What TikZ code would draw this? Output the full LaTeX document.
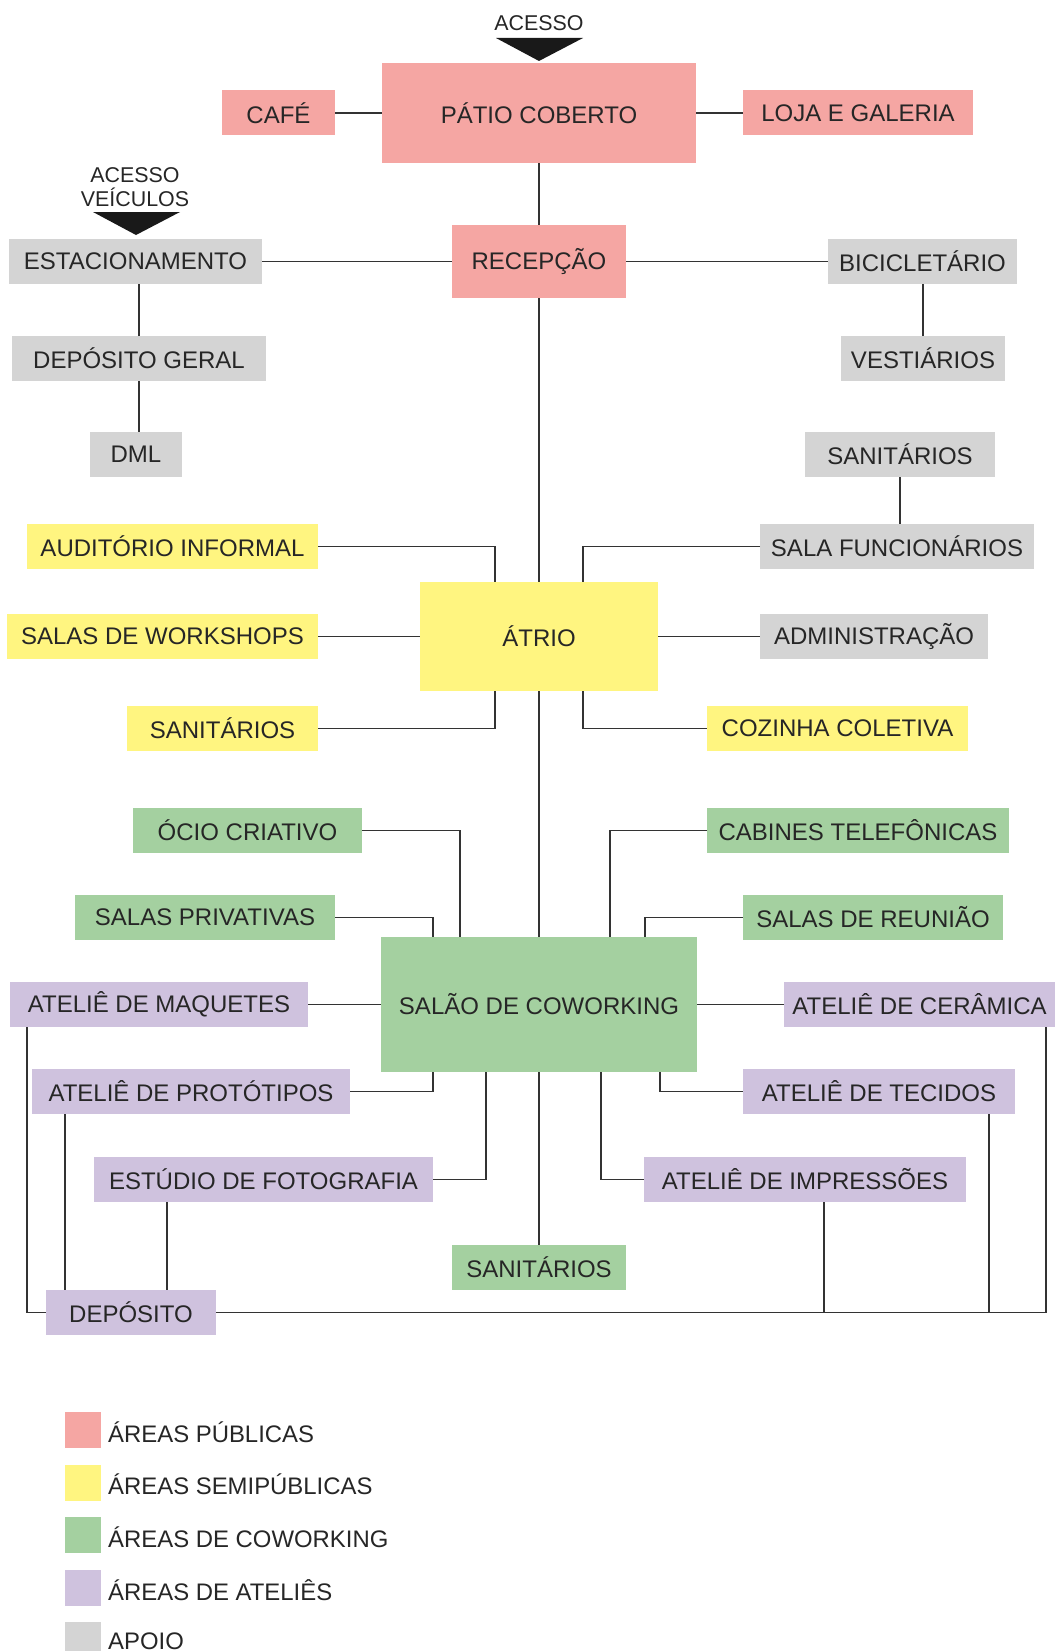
\documentclass[tikz,border=0pt]{standalone}
\usepackage{fontspec}
\setmainfont{Liberation Sans}
\begin{document}
\begin{tikzpicture}[x=1pt,y=-1pt,
  box/.style={inner sep=0pt, outer sep=0pt, font=\fontsize{24pt}{28pt}\selectfont, text=black!85},
  pub/.style={box, fill=cpub},
  semi/.style={box, fill=csemi},
  cow/.style={box, fill=ccow},
  ate/.style={box, fill=cate},
  apo/.style={box, fill=capo},
  conn/.style={draw=black!80, line width=1.3pt},
  swatch/.style={inner sep=0pt, minimum width=36pt, minimum height=36pt},
  legtext/.style={anchor=west, inner sep=0pt, font=\fontsize{23.9pt}{28pt}\selectfont, text=black!85},
  acc/.style={inner sep=0pt, align=center, font=\fontsize{21.4pt}{25pt}\selectfont, text=black!85}
]
\definecolor{cpub}{RGB}{245,166,163}
\definecolor{csemi}{RGB}{255,245,128}
\definecolor{ccow}{RGB}{164,208,160}
\definecolor{cate}{RGB}{207,194,222}
\definecolor{capo}{RGB}{212,212,212}
\useasboundingbox (0,0) rectangle (1055,1651);

% access markers
\node[acc] (acesso) at (539,23) {ACESSO};
\coordinate (accA) at (496,38);
\coordinate (accB) at (583,38);
\coordinate (accT) at (539,61);
\fill[black!90] (accA) -- (accB) -- (accT) -- cycle;
\node[acc] (acessov) at (135,187) {ACESSO\\[-1pt]VEÍCULOS};
\coordinate (avA) at (93,212);
\coordinate (avB) at (180,212);
\coordinate (avT) at (136,235);
\fill[black!90] (avA) -- (avB) -- (avT) -- cycle;

% public
\node[pub, minimum width=314pt, minimum height=100pt] (patio) at (539,113) {PÁTIO COBERTO};
\node[pub, minimum width=113pt, minimum height=45pt] (cafe) at (278.5,113) {CAFÉ};
\node[pub, minimum width=230pt, minimum height=45pt] (loja) at (858,113) {LOJA E GALERIA};
\node[pub, minimum width=174pt, minimum height=73pt] (recep) at (539,261.5) {RECEPÇÃO};

% support
\node[apo, minimum width=253pt, minimum height=45pt] (estac) at (135.5,261.5) {ESTACIONAMENTO};
\node[apo, minimum width=189pt, minimum height=45pt] (bici) at (922.5,261.5) {BICICLETÁRIO};
\node[apo, minimum width=254pt, minimum height=45pt] (depgeral) at (139,358.5) {DEPÓSITO GERAL};
\node[apo, minimum width=92pt, minimum height=45pt] (dml) at (136,454.5) {DML};
\node[apo, minimum width=164pt, minimum height=45pt] (vest) at (923,358.5) {VESTIÁRIOS};
\node[apo, minimum width=190pt, minimum height=45pt] (sanapoio) at (900,454.5) {SANITÁRIOS};
\node[apo, minimum width=274pt, minimum height=45pt] (salafunc) at (897,546.5) {SALA FUNCIONÁRIOS};
\node[apo, minimum width=228pt, minimum height=45pt] (admin) at (874,636.5) {ADMINISTRAÇÃO};

% semi-public
\node[semi, minimum width=238pt, minimum height=109pt] (atrio) at (539,636.5) {ÁTRIO};
\node[semi, minimum width=291pt, minimum height=45pt] (aud) at (172.5,546.5) {AUDITÓRIO INFORMAL};
\node[semi, minimum width=311pt, minimum height=45pt] (workshops) at (162.5,636.5) {SALAS DE WORKSHOPS};
\node[semi, minimum width=191pt, minimum height=45pt] (sanamarelo) at (222.5,728.5) {SANITÁRIOS};
\node[semi, minimum width=261pt, minimum height=45pt] (cozinha) at (837.5,728.5) {COZINHA COLETIVA};

% coworking
\node[cow, minimum width=316pt, minimum height=135pt] (cowork) at (539,1004.5) {SALÃO DE COWORKING};
\node[cow, minimum width=229pt, minimum height=45pt] (ocio) at (247.5,830.5) {ÓCIO CRIATIVO};
\node[cow, minimum width=260pt, minimum height=45pt] (privativas) at (205,917.5) {SALAS PRIVATIVAS};
\node[cow, minimum width=302pt, minimum height=45pt] (cabines) at (858,830.5) {CABINES TELEFÔNICAS};
\node[cow, minimum width=260pt, minimum height=45pt] (reuniao) at (873,917.5) {SALAS DE REUNIÃO};
\node[cow, minimum width=174pt, minimum height=45pt] (sanverde) at (539,1267.5) {SANITÁRIOS};

% ateliers
\node[ate, minimum width=298pt, minimum height=45pt] (maquetes) at (159,1004.5) {ATELIÊ DE MAQUETES};
\node[ate, minimum width=271pt, minimum height=45pt] (ceramica) at (919.5,1004.5) {ATELIÊ DE CERÂMICA};
\node[ate, minimum width=318pt, minimum height=45pt] (prototipos) at (191,1091.5) {ATELIÊ DE PROTÓTIPOS};
\node[ate, minimum width=272pt, minimum height=45pt] (tecidos) at (879,1091.5) {ATELIÊ DE TECIDOS};
\node[ate, minimum width=339pt, minimum height=45pt] (fotografia) at (263.5,1179.5) {ESTÚDIO DE FOTOGRAFIA};
\node[ate, minimum width=322pt, minimum height=45pt] (impressoes) at (805,1179.5) {ATELIÊ DE IMPRESSÕES};
\node[ate, minimum width=170pt, minimum height=45pt] (deposito) at (131,1312.5) {DEPÓSITO};

% connectors: top part
\draw[conn] (cafe.east) -- (patio.west);
\draw[conn] (patio.east) -- (loja.west);
\draw[conn] (patio.south) -- (recep.north);
\draw[conn] (estac.east) -- (recep.west);
\draw[conn] (recep.east) -- (bici.west);
\draw[conn] (depgeral.north) -- (depgeral.north |- estac.south);
\draw[conn] (depgeral.south) -- (depgeral.south |- dml.north);
\draw[conn] (vest.north) -- (vest.north |- bici.south);
\draw[conn] (sanapoio.south) -- (sanapoio.south |- salafunc.north);
\draw[conn] (recep.south) -- (atrio.north);

% atrio
\draw[conn] (aud.east) -| ([xshift=-44pt]atrio.north);
\draw[conn] (salafunc.west) -| ([xshift=44pt]atrio.north);
\draw[conn] (workshops.east) -- (atrio.west);
\draw[conn] (atrio.east) -- (admin.west);
\draw[conn] ([xshift=-44pt]atrio.south) |- (sanamarelo.east);
\draw[conn] ([xshift=44pt]atrio.south) |- (cozinha.west);
\draw[conn] (atrio.south) -- (cowork.north);

% coworking
\draw[conn] (ocio.east) -| ([xshift=-79pt]cowork.north);
\draw[conn] (privativas.east) -| ([xshift=-106pt]cowork.north);
\draw[conn] (cabines.west) -| ([xshift=71pt]cowork.north);
\draw[conn] (reuniao.west) -| ([xshift=106pt]cowork.north);
\draw[conn] (maquetes.east) -- (cowork.west);
\draw[conn] (cowork.east) -- (ceramica.west);
\draw[conn] ([xshift=-106pt]cowork.south) |- (prototipos.east);
\draw[conn] ([xshift=121pt]cowork.south) |- (tecidos.west);
\draw[conn] ([xshift=-53pt]cowork.south) |- (fotografia.east);
\draw[conn] ([xshift=62pt]cowork.south) |- (impressoes.west);
\draw[conn] (cowork.south) -- (sanverde.north);

% deposit loop
\draw[conn] ([xshift=17pt]maquetes.south west) |- (deposito.west);
\draw[conn] (deposito.east) -| ([xshift=-9pt]ceramica.south east);
\coordinate (prod) at ([xshift=-126pt]prototipos.south);
\draw[conn] (prod) -- (prod |- deposito.north);
\coordinate (fotd) at ([xshift=-96.5pt]fotografia.south);
\draw[conn] (fotd) -- (fotd |- deposito.north);
\coordinate (impd) at ([xshift=19pt]impressoes.south);
\draw[conn] (impd) -- (impd |- deposito.east);
\coordinate (tecd) at ([xshift=110pt]tecidos.south);
\draw[conn] (tecd) -- (tecd |- deposito.east);

% legend
\node[swatch, fill=cpub] (l1) at (83,1430) {};
\node[swatch, fill=csemi] (l2) at (83,1482.5) {};
\node[swatch, fill=ccow] (l3) at (83,1535) {};
\node[swatch, fill=cate] (l4) at (83,1588) {};
\node[swatch, fill=capo] (l5) at (83,1640) {};
\node[legtext] (t1) at (108,1432) {ÁREAS PÚBLICAS};
\node[legtext] (t2) at (108,1484) {ÁREAS SEMIPÚBLICAS};
\node[legtext] (t3) at (108,1537) {ÁREAS DE COWORKING};
\node[legtext] (t4) at (108,1590) {ÁREAS DE ATELIÊS};
\node[legtext] (t5) at (108,1641) {APOIO};
\end{tikzpicture}
\end{document}
